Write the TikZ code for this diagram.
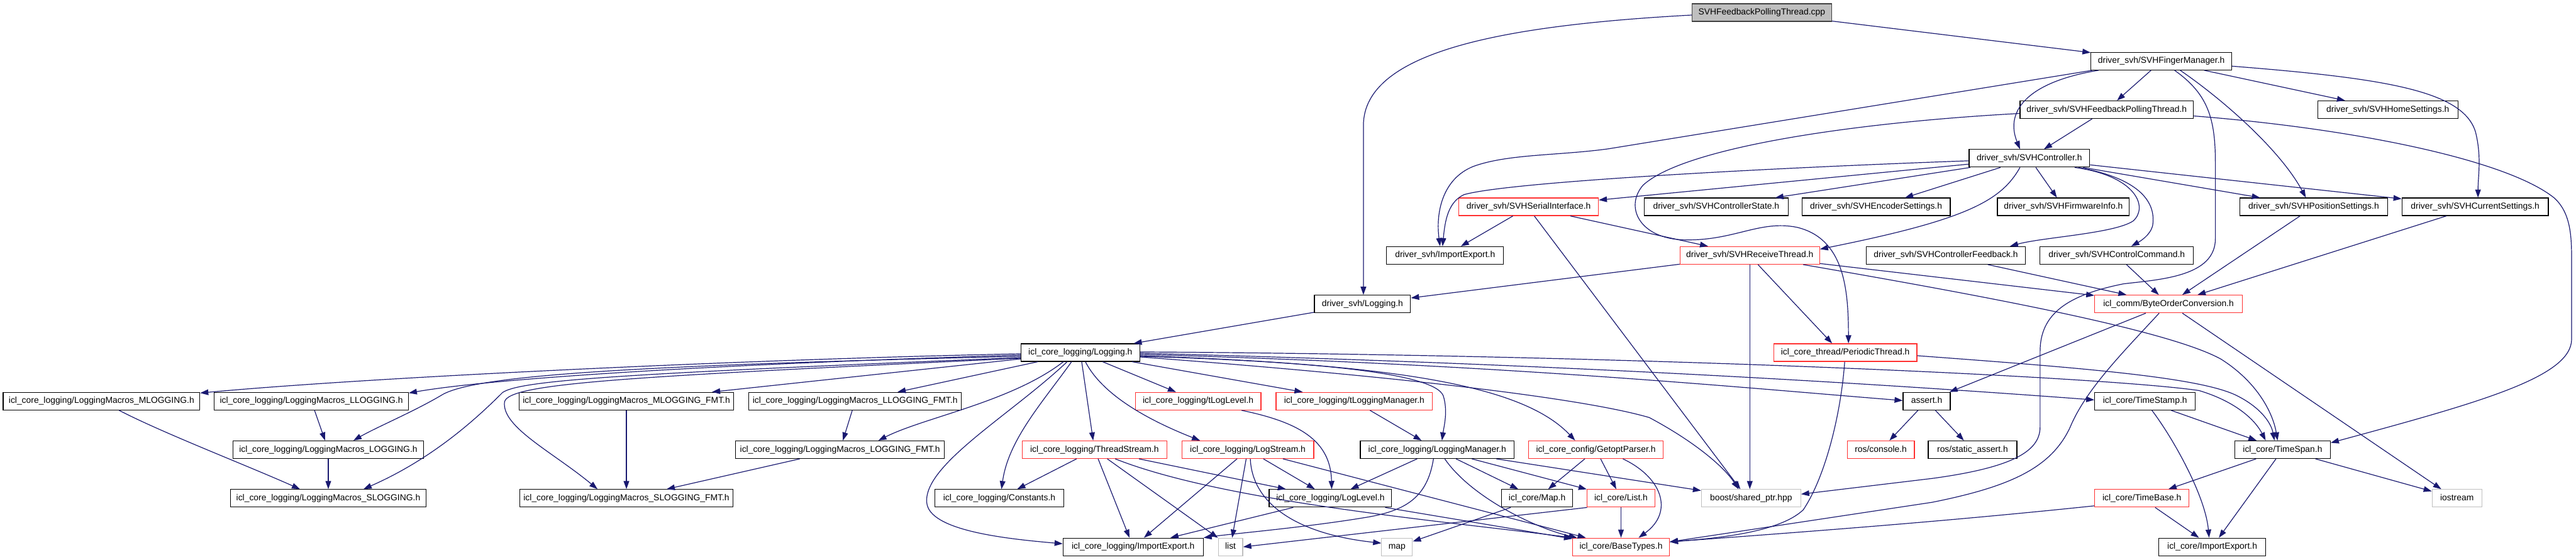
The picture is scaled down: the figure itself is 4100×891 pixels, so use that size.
\documentclass[tikz,border=0pt]{standalone}
\usepackage{fontspec}
\setmainfont{Liberation Sans}
\usetikzlibrary{arrows.meta}
\definecolor{edgec}{HTML}{191970}
\definecolor{redb}{HTML}{FF3030}
\definecolor{grayb}{HTML}{BFBFBF}
\begin{document}
\begin{tikzpicture}[x=1pt,y=-1pt,
  nb/.style={draw=black, line width=1.2pt, rectangle, minimum height=28pt, inner sep=0pt,
    font=\fontsize{13.9}{16}\selectfont, text=black, fill=white, text height=10pt, text depth=3pt},
  rb/.style={nb, draw=redb},
  gb/.style={nb, draw=grayb},
  cb/.style={nb, fill=grayb, draw=black!75},
  e/.style={draw=edgec, line width=1.2pt, -{Triangle[length=13pt,width=9pt]}}]
\useasboundingbox (0,0) rectangle (4100,891);
% rank 0-7
\node[cb, minimum width=222pt] (cpp) at (2804,20) {SVHFeedbackPollingThread.cpp};
\node[nb, minimum width=224pt] (fm) at (3440,97.4) {driver\_svh/SVHFingerManager.h};
\node[nb, minimum width=276pt] (fpt) at (3353,174.7) {driver\_svh/SVHFeedbackPollingThread.h};
\node[nb, minimum width=223pt] (home) at (3800.5,174.7) {driver\_svh/SVHHomeSettings.h};
\node[nb, minimum width=192pt] (ctrl) at (3230,252.1) {driver\_svh/SVHController.h};
\node[rb, minimum width=222pt] (serial) at (2433,329.4) {driver\_svh/SVHSerialInterface.h};
\node[nb, minimum width=229pt] (cstate) at (2731.5,329.4) {driver\_svh/SVHControllerState.h};
\node[nb, minimum width=236pt] (enc) at (2986,329.4) {driver\_svh/SVHEncoderSettings.h};
\node[nb, minimum width=210pt] (fw) at (3284,329.4) {driver\_svh/SVHFirmwareInfo.h};
\node[nb, minimum width=235pt] (pos) at (3682.5,329.4) {driver\_svh/SVHPositionSettings.h};
\node[nb, minimum width=233pt] (cur) at (3939.5,329.4) {driver\_svh/SVHCurrentSettings.h};
\node[nb, minimum width=186pt] (dimp) at (2300,406.8) {driver\_svh/ImportExport.h};
\node[rb, minimum width=222pt] (recv) at (2785,406.8) {driver\_svh/SVHReceiveThread.h};
\node[nb, minimum width=254pt] (cfb) at (3097,406.8) {driver\_svh/SVHControllerFeedback.h};
\node[nb, minimum width=244pt] (ccmd) at (3369,406.8) {driver\_svh/SVHControlCommand.h};
\node[nb, minimum width=153pt] (dlog) at (2168.5,484.2) {driver\_svh/Logging.h};
\node[rb, minimum width=235pt] (bo) at (3451.5,484.2) {icl\_comm/ByteOrderConversion.h};
\node[nb, minimum width=189pt] (log) at (1719.5,561.5) {icl\_core\_logging/Logging.h};
\node[rb, minimum width=228pt] (pthr) at (2937,561.5) {icl\_core\_thread/PeriodicThread.h};
% rank 8
\node[nb, minimum width=313pt] (mlog) at (161.5,638.9) {icl\_core\_logging/LoggingMacros\_MLOGGING.h};
\node[nb, minimum width=309pt] (llog) at (495.5,638.9) {icl\_core\_logging/LoggingMacros\_LLOGGING.h};
\node[nb, minimum width=342pt] (mfmt) at (997,638.9) {icl\_core\_logging/LoggingMacros\_MLOGGING\_FMT.h};
\node[nb, minimum width=338pt] (lfmt) at (1361,638.9) {icl\_core\_logging/LoggingMacros\_LLOGGING\_FMT.h};
\node[rb, minimum width=200pt] (tll) at (1907,638.9) {icl\_core\_logging/tLogLevel.h};
\node[rb, minimum width=249pt] (tlm) at (2155.5,638.9) {icl\_core\_logging/tLoggingManager.h};
\node[nb, minimum width=75pt] (assert) at (3066.5,638.9) {assert.h};
\node[nb, minimum width=160pt] (tstamp) at (3414,638.9) {icl\_core/TimeStamp.h};
% rank 9
\node[nb, minimum width=303pt] (logm) at (522.5,716.2) {icl\_core\_logging/LoggingMacros\_LOGGING.h};
\node[nb, minimum width=332pt] (logfmt) at (1337,716.2) {icl\_core\_logging/LoggingMacros\_LOGGING\_FMT.h};
\node[rb, minimum width=230pt] (ts) at (1742,716.2) {icl\_core\_logging/ThreadStream.h};
\node[rb, minimum width=210pt] (ls) at (1986,716.2) {icl\_core\_logging/LogStream.h};
\node[nb, minimum width=245pt] (lm) at (2287.5,716.2) {icl\_core\_logging/LoggingManager.h};
\node[rb, minimum width=214pt] (gp) at (2540,716.2) {icl\_core\_config/GetoptParser.h};
\node[rb, minimum width=107pt] (rcon) at (2993.5,716.2) {ros/console.h};
\node[nb, minimum width=141pt] (rsa) at (3139.5,716.2) {ros/static\_assert.h};
\node[nb, minimum width=152pt] (tspan) at (3633,716.2) {icl\_core/TimeSpan.h};
% rank 10
\node[nb, minimum width=311pt] (slog) at (522.5,793.6) {icl\_core\_logging/LoggingMacros\_SLOGGING.h};
\node[nb, minimum width=340pt] (sfmt) at (997,793.6) {icl\_core\_logging/LoggingMacros\_SLOGGING\_FMT.h};
\node[nb, minimum width=205pt] (const) at (1590.5,793.6) {icl\_core\_logging/Constants.h};
\node[nb, minimum width=195pt] (ll) at (2117.5,793.6) {icl\_core\_logging/LogLevel.h};
\node[nb, minimum width=113pt] (map) at (2446.5,793.6) {icl\_core/Map.h};
\node[rb, minimum width=108pt] (list) at (2580,793.6) {icl\_core/List.h};
\node[gb, minimum width=158pt] (boost) at (2787,793.6) {boost/shared\_ptr.hpp};
\node[rb, minimum width=150pt] (tbase) at (3409,793.6) {icl\_core/TimeBase.h};
\node[gb, minimum width=79pt] (iostream) at (3910.5,793.6) {iostream};
% rank 11
\node[nb, minimum width=223pt] (limp) at (1803.5,871) {icl\_core\_logging/ImportExport.h};
\node[gb, minimum width=39pt] (stdlist) at (1958.5,871) {list};
\node[gb, minimum width=49pt] (stdmap) at (2223.5,871) {map};
\node[rb, minimum width=154pt] (bt) at (2580,871) {icl\_core/BaseTypes.h};
\node[nb, minimum width=170pt] (cimp) at (3521,871) {icl\_core/ImportExport.h};

% ---- edges ----
\draw[e] ([yshift=-4pt]cpp.west) .. controls (2400,40) and (2170,80) .. (2170,200) -- ([xshift=1.5pt]dlog.north);
\draw[e] (cpp) -- (fm);
\draw[e] (fm) -- (fpt);
\draw[e] ([xshift=-100pt]fm.south) .. controls (3230,130) and (3190,175) .. ([xshift=-15pt]ctrl.north);
\draw[e] (fm) -- (home);
\draw[e] ([yshift=-8pt]fm.east) .. controls (3800,125) and (3920,145) .. (3940,210) .. controls (3950,250) and (3944,280) .. ([xshift=4.5pt]cur.north);
\draw[e] ([xshift=30pt]fm.south) .. controls (3540,160) and (3630,240) .. ([xshift=-12.5pt]pos.north);
\draw[e] ([xshift=21pt]fm.south) .. controls (3515,150) and (3526,190) .. (3526,260) -- (3526,380) .. controls (3526,440) and (3440,445) .. (3380,452) .. controls (3290,470) and (3247,500) .. (3247,560) -- (3247,680) .. controls (3247,720) and (3200,745) .. (3075,762) -- ([yshift=6.6pt]boost.east);
\draw[e] ([xshift=-110pt]fm.south) -- (2560,237) .. controls (2480,248) and (2400,245) .. (2345,265) .. controls (2295,285) and (2285,340) .. ([xshift=-8pt]dimp.north);
\draw[e] (fpt) -- (ctrl);
\draw[e] ([yshift=-6pt]fpt.west) .. controls (2950,195) and (2680,235) .. (2615,295) .. controls (2585,330) and (2610,380) .. (2680,382) .. controls (2760,384) and (2800,350) .. (2860,362) .. controls (2935,380) and (2942,460) .. ([xshift=5pt]pthr.north);
\draw[e] ([yshift=-10pt]fpt.east) .. controls (3750,205) and (3990,255) .. (4065,315) .. controls (4093,340) and (4093,380) .. (4093,420) -- (4093,540) .. controls (4093,600) and (3950,640) .. ([yshift=11pt]tspan.east);
\draw[e] (ctrl) -- (serial);
\draw[e] (ctrl) -- (cstate);
\draw[e] (ctrl) -- (enc);
\draw[e] (ctrl) -- (fw);
\draw[e] (ctrl) -- (pos);
\draw[e] (ctrl) -- (cur);
\draw[e] ([xshift=-15pt]ctrl.south) .. controls (3185,320) and (3130,350) .. ([yshift=10pt]recv.east);
\draw[e] ([yshift=-4pt]ctrl.west) .. controls (2800,268) and (2400,290) .. (2330,310) .. controls (2305,322) and (2300,350) .. ([xshift=-4pt]dimp.north);
\draw[e] ([xshift=72pt]ctrl.south) .. controls (3400,280) and (3420,330) .. (3395,352) .. controls (3365,372) and (3250,378) .. ([xshift=102pt]cfb.north);
\draw[e] ([xshift=78pt]ctrl.south) .. controls (3410,285) and (3432,325) .. (3426,360) .. controls (3422,375) and (3405,385) .. ([xshift=23pt]ccmd.north);
\draw[e] (serial) -- (dimp);
\draw[e] (serial) -- (recv);
\draw[e] ([xshift=9pt]serial.south) -- ([xshift=-17pt]boost.north);
\draw[e] (recv) -- (dlog);
\draw[e] (recv.south) -- ([xshift=-2pt]boost.north);
\draw[e] ([xshift=13pt]recv.south) -- ([xshift=-21pt]pthr.north);
\draw[e] (recv) -- (bo);
\draw[e] ([xshift=85pt]recv.south) .. controls (3150,470) and (3450,525) .. (3535,572) .. controls (3595,610) and (3618,660) .. ([xshift=-8pt]tspan.north);
\draw[e] (cfb) -- (bo);
\draw[e] (ccmd) -- (bo);
\draw[e] (pos) -- (bo);
\draw[e] (cur) -- (bo);
\draw[e] (bo) -- (assert);
\draw[e] ([xshift=-15pt]bo.south) .. controls (3380,560) and (3320,620) .. (3295,680) .. controls (3265,745) and (3200,775) .. (3075,800) -- ([yshift=8pt]bt.east);
\draw[e] ([xshift=22pt]bo.south) -- ([xshift=-25pt]iostream.north);
\draw[e] (dlog) -- (log);
\draw[e] ([xshift=-1pt]pthr.south) .. controls (2930,660) and (2905,760) .. (2870,812) .. controls (2830,850) and (2720,858) .. ([yshift=8pt]bt.east);
\draw[e] ([yshift=-5pt]pthr.east) .. controls (3300,585) and (3500,600) .. (3560,630) .. controls (3600,650) and (3615,675) .. ([xshift=-13pt]tspan.north);
% Logging.h fan-out
\draw[e] ([yshift=-2pt]log.west) .. controls (1200,572) and (600,600) .. ([yshift=13pt]mlog.east);
\draw[e] ([yshift=-4pt]log.west) .. controls (1200,578) and (800,600) .. ([yshift=13pt]llog.east);
\draw[e] ([yshift=-6pt]log.west) .. controls (1000,582) and (760,598) .. (705,628) .. controls (660,655) and (600,680) .. ([xshift=40pt]logm.north);
\draw[e] ([yshift=-8pt]log.west) .. controls (1000,595) and (830,605) .. (800,625) .. controls (760,665) and (690,730) .. ([xshift=56pt]slog.north);
\draw[e] ([yshift=-9pt]log.west) .. controls (1000,600) and (810,610) .. (803,640) .. controls (798,680) and (880,720) .. ([xshift=-46pt]sfmt.north);
\draw[e] (log) -- (mfmt);
\draw[e] (log) -- (lfmt);
\draw[e] ([xshift=-27pt]log.south) .. controls (1610,640) and (1470,665) .. ([xshift=61pt]logfmt.north);
\draw[e] ([xshift=-21pt]log.south) .. controls (1610,660) and (1470,740) .. (1475,800) .. controls (1478,845) and (1600,858) .. ([yshift=5pt]limp.west);
\draw[e] ([xshift=-14pt]log.south) .. controls (1660,640) and (1605,700) .. ([xshift=3.5pt]const.north);
\draw[e] (log) -- (ts);
\draw[e] ([xshift=8pt]log.south) .. controls (1755,630) and (1830,670) .. ([xshift=-76pt]ls.north);
\draw[e] (log) -- (tll);
\draw[e] (log) -- (tlm);
\draw[e] ([yshift=-5pt]log.east) .. controls (2050,575) and (2280,590) .. (2297,630) .. controls (2305,655) and (2298,680) .. ([xshift=7.5pt]lm.north);
\draw[e] ([yshift=-6pt]log.east) .. controls (2250,580) and (2430,620) .. ([xshift=-33pt]gp.north);
\draw[e] ([yshift=-7pt]log.east) .. controls (2300,605) and (2540,640) .. (2625,665) .. controls (2700,705) and (2745,745) .. ([xshift=-20pt]boost.north);
\draw[e] ([yshift=-3pt]log.east) .. controls (2400,580) and (2800,620) .. ([yshift=1pt]assert.west);
\draw[e] ([yshift=-1pt]log.east) .. controls (2500,580) and (3000,612) .. ([yshift=2pt]tstamp.west);
\draw[e] ([yshift=1pt]log.east) .. controls (2600,565) and (3350,600) .. (3500,622) .. controls (3560,640) and (3590,670) .. ([xshift=-27pt]tspan.north);
% macros
\draw[e] (llog) -- (logm);
\draw[e] (logm) -- (slog);
\draw[e] ([xshift=28pt]mlog.south) .. controls (260,690) and (390,740) .. ([xshift=-45pt]slog.north);
\draw[e] (mfmt) -- (sfmt);
\draw[e] (lfmt) -- (logfmt);
\draw[e] (logfmt) -- (sfmt);
% logging internals
\draw[e] ([xshift=69pt]tll.south) .. controls (2065,672) and (2118,700) .. ([xshift=2pt]ll.north);
\draw[e] (tlm) -- (lm);
\draw[e] (ts) -- (const);
\draw[e] (ts) -- (limp);
\draw[e] (ts) -- (stdlist);
\draw[e] (ts) -- (ll);
\draw[e] ([xshift=33pt]ts.south) .. controls (1950,800) and (2300,830) .. (bt.north west);
\draw[e] (ls) -- (limp);
\draw[e] (ls) -- (stdlist);
\draw[e] ([xshift=4pt]ls.south) .. controls (1993,800) and (2060,850) .. ([yshift=6pt]stdmap.west);
\draw[e] (ls) -- (ll);
\draw[e] (ls) -- (bt);
\draw[e] (lm) -- (ll);
\draw[e] ([xshift=-6pt]lm.south) .. controls (2272,790) and (2240,812) .. (2180,823) .. controls (2080,840) and (1960,850) .. (limp.north east);
\draw[e] ([xshift=12pt]lm.south) .. controls (2340,790) and (2440,840) .. ([xshift=-70pt]bt.north);
\draw[e] (lm) -- (map);
\draw[e] (lm) -- (list);
\draw[e] (lm) -- (boost);
\draw[e] (gp) -- (map);
\draw[e] (gp) -- (list);
\draw[e] ([xshift=43pt]gp.south) .. controls (2645,760) and (2665,815) .. ([xshift=28pt]bt.north);
\draw[e] (ll) -- (limp);
\draw[e] (ll) -- (bt);
\draw[e] (map) -- (stdmap);
\draw[e] ([xshift=-54pt]list.south) -- (stdlist.east);
\draw[e] (list) -- (bt);
% time
\draw[e] (tspan) -- (tbase);
\draw[e] (tspan) -- (cimp);
\draw[e] (tspan) -- (iostream);
\draw[e] (tstamp) -- (tspan);
\draw[e] ([xshift=11pt]tstamp.south) .. controls (3460,700) and (3510,790) .. ([xshift=-5pt]cimp.north);
\draw[e] (tbase) -- (cimp);
\draw[e] ([yshift=-12pt]tbase.west) .. controls (3100,830) and (2900,845) .. ([yshift=8pt]bt.east);
\draw[e] (assert) -- (rcon);
\draw[e] (assert) -- (rsa);
\end{tikzpicture}
\end{document}
